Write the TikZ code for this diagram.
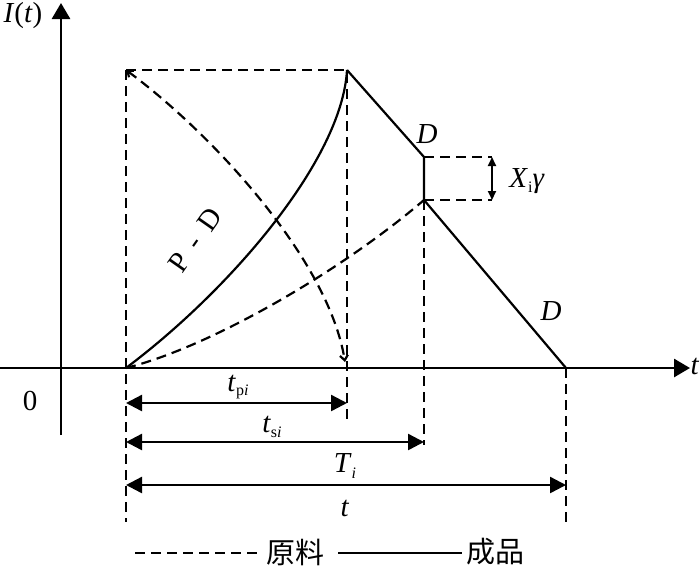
\documentclass[tikz,border=0pt]{standalone}
\usepackage{fontspec}
\setmainfont{Liberation Serif}
\newfontfamily\cjk{Noto Sans CJK SC}
\usetikzlibrary{arrows.meta}

\begin{document}
\begin{tikzpicture}[x=1pt, y=-1pt,
      font=\fontsize{29}{33}\selectfont,
      axis/.style={line width=2.8pt, -{Triangle[length=16pt,width=18pt]}},
      prod/.style={line width=2.2pt},
      raw/.style={line width=2.2pt, dash pattern=on 10pt off 6pt},
      guide/.style={line width=2.2pt, dash pattern=on 10pt off 6pt},
      dim/.style={line width=2.4pt, {Triangle[length=16pt,width=16pt]}-{Triangle[length=16pt,width=16pt]}},
      lbl/.style={inner sep=0pt}]
      \useasboundingbox (0,0) rectangle (700,573);
      % axes
      \coordinate (ybot) at (61,435);
      \coordinate (ytop) at (61,3);
      \coordinate (xbeg) at (0,368);
      \coordinate (xend) at (690,368);
      \draw[axis] (ybot) -- (ytop);
      \draw[axis] (xbeg) -- (xend);
      \node[lbl] (ilab) at (23,16) {\textit{I}(\textit{t})};
      \node[lbl] (tlab) at (695,366) {\textit{t}};
      \node[lbl] (zero) at (30,401) {0};
      % key points
      \coordinate (s)   at (126,368);
      \coordinate (tl)  at (126,70);
      \coordinate (pk)  at (347,70);
      \coordinate (pb)  at (345,362);
      \coordinate (d1)  at (424,157);
      \coordinate (d2)  at (424,200);
      \coordinate (e)   at (566,368);
      \coordinate (g1)  at (492,157);
      \coordinate (g2)  at (492,200);
      % guide lines
      \draw[guide] (tl) -- (126,522);
      \draw[guide] (tl) -- (pk) -- (347,425);
      \draw[guide] (d2) -- (424,445);
      \draw[guide] (e) -- (566,522);
      \draw[guide] (d1) -- (g1);
      \draw[guide] (d2) -- (g2);
      % curves
      \draw[prod] (s) .. controls (230,290) and (342,160) .. (pk);
      \draw[prod] (pk) -- (d1) -- (d2) -- (e);
      \draw[raw, {Straight Barb[length=5pt,width=8pt]}-{Straight Barb[length=5pt,width=8pt]}]
            (tl) .. controls (210,132) and (328,258) .. (pb);
      \draw[raw] (s) .. controls (210,347) and (340,272) .. (d2);
      \node[lbl, rotate=55] (pd) at (195,240) {P\,\ -\ \,D};
      \node[lbl] (dtop) at (427,134) {\textit{D}};
      \node[lbl] (dbot) at (551,311) {\textit{D}};
      % loss
      \draw[line width=1.8pt, {Triangle[length=9pt,width=8pt]}-{Triangle[length=9pt,width=8pt]}] (g1) -- (g2);
      \node[lbl] (loss) at (527,181) {\textit{X}\raisebox{-0.35ex}{\fontsize{16}{16}\selectfont i}\textit{γ}};
      % spans
      \draw[dim] (126,403) -- (347,403);
      \draw[dim] (126,442) -- (424,442);
      \draw[dim] (126,485) -- (566,485);
      \node[lbl] (tp) at (238,387) {\textit{t}\raisebox{-0.35ex}{\fontsize{16}{16}\selectfont p\textit{i}}};
      \node[lbl] (ts) at (272,427) {\textit{t}\raisebox{-0.35ex}{\fontsize{16}{16}\selectfont s\textit{i}}};
      \node[lbl] (ti) at (345,466) {\textit{T}\raisebox{-0.45ex}{\fontsize{16}{16}\selectfont\textit{i}}};
      \node[lbl] (tt) at (345,508) {\textit{t}};
      % legend
      \coordinate (r1) at (135,553);
      \coordinate (r2) at (257,553);
      \coordinate (p1) at (338,553);
      \coordinate (p2) at (462,553);
      \draw[raw] (r1) -- (r2);
      \node[lbl] (rawlab) at (295,552) {\cjk 原料};
      \draw[prod] (p1) -- (p2);
      \node[lbl] (prodlab) at (495,552) {\cjk 成品};
    \end{tikzpicture}
\end{document}
